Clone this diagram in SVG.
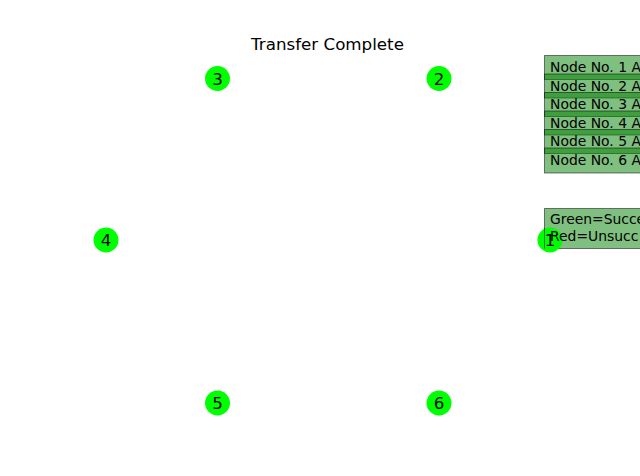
<svg xmlns="http://www.w3.org/2000/svg" width="640" height="476" viewBox="0 0 640 476">
<style>
text{font-family:"DejaVu Sans","Liberation Sans",sans-serif;fill:#000}
.title{font-size:16.7px;text-anchor:middle}
.lbl{font-size:16.7px;text-anchor:middle}
.box{fill:rgba(0,128,0,0.5);stroke:rgba(0,0,0,0.5);stroke-width:1}
.bt{font-size:13.9px}
.node{fill:#00ff00}
</style>
<rect width="640" height="476" fill="#fff"/>
<text class="title" x="327.5" y="50">Transfer Complete</text>
<g id="connectors"></g>
<g id="legend-status">
<rect class="box" x="544.5" y="55.5" width="120" height="24"/>
<rect class="box" x="544.5" y="74" width="120" height="24"/>
<rect class="box" x="544.5" y="92.5" width="120" height="24"/>
<rect class="box" x="544.5" y="111" width="120" height="24"/>
<rect class="box" x="544.5" y="129.5" width="120" height="24"/>
<rect class="box" x="544.5" y="148" width="120" height="25"/>
<text class="bt" x="550" y="72">Node No. 1 A</text>
<text class="bt" x="550" y="90.5">Node No. 2 A</text>
<text class="bt" x="550" y="109">Node No. 3 A</text>
<text class="bt" x="550" y="127.5">Node No. 4 A</text>
<text class="bt" x="550" y="146">Node No. 5 A</text>
<text class="bt" x="550" y="164.5">Node No. 6 A</text>
</g>
<g id="legend-key">
<rect class="box" x="544.5" y="208.5" width="120" height="40"/>
</g>
<g id="node1"><circle class="node" cx="550" cy="240" r="12.5"/><line x1="544.5" y1="228" x2="544.5" y2="248.5" stroke="rgba(0,0,0,0.5)"/><text class="lbl" x="550" y="246">1</text></g>
<g id="legend-key-text">
<text class="bt" x="550" y="224">Green=Succe</text>
<text class="bt" x="550" y="240.5">Red=Unsucc</text>
</g>
<g id="node2"><circle class="node" cx="439" cy="78.5" r="12.5"/><text class="lbl" x="439" y="84.5">2</text></g>
<g id="node3"><circle class="node" cx="217.5" cy="78.5" r="12.5"/><text class="lbl" x="217.5" y="84.5">3</text></g>
<g id="node4"><circle class="node" cx="106" cy="240" r="12.5"/><text class="lbl" x="106" y="246">4</text></g>
<g id="node5"><circle class="node" cx="217.5" cy="403" r="12.5"/><text class="lbl" x="217.5" y="409">5</text></g>
<g id="node6"><circle class="node" cx="439" cy="403" r="12.5"/><text class="lbl" x="439" y="409">6</text></g>
</svg>
